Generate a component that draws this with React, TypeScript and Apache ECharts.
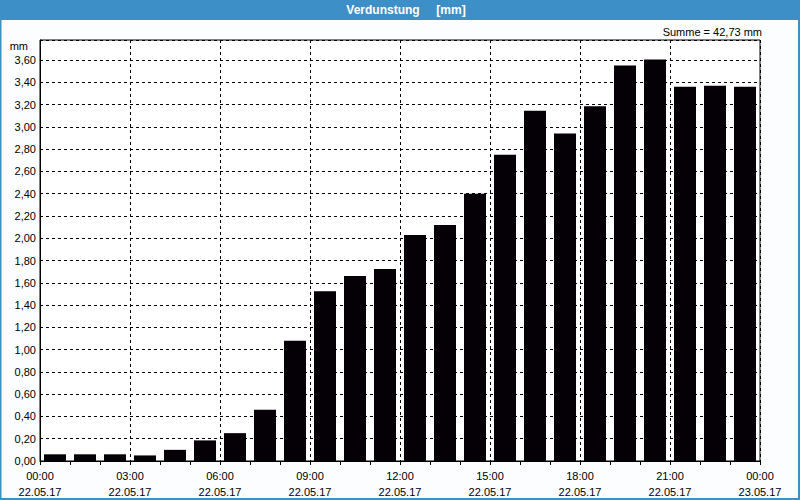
import React, { useEffect, useRef } from "react";
import * as echarts from "echarts";

const hours = Array.from({ length: 24 }, (_, i) => i);
const values = [
  0.06, 0.06, 0.06, 0.05, 0.10, 0.185, 0.25, 0.46,
  1.08, 1.525, 1.66, 1.725, 2.03, 2.12, 2.40, 2.75,
  3.145, 2.94, 3.185, 3.55, 3.605, 3.36, 3.37, 3.36,
];
const xTickLabels: Record<number, string> = {
  0: "00:00\n22.05.17",
  3: "03:00\n22.05.17",
  6: "06:00\n22.05.17",
  9: "09:00\n22.05.17",
  12: "12:00\n22.05.17",
  15: "15:00\n22.05.17",
  18: "18:00\n22.05.17",
  21: "21:00\n22.05.17",
  24: "00:00\n23.05.17",
};
const titleText = "Verdunstung     [mm]";
const sumText = "Summe = 42,73 mm";
const unitText = "mm";

export default function App() {
  const ref = useRef<HTMLDivElement>(null);
  useEffect(() => {
    document.body.style.margin = "0";
    const chart = echarts.init(ref.current!, null, { renderer: "svg" });
    const font = "'Liberation Sans', Arial, sans-serif";
    chart.setOption({
      animation: false,
      backgroundColor: "#fbfdff",
      textStyle: { fontFamily: font },
      grid: {
        left: 40,
        top: 40,
        width: 720,
        height: 421,
        show: true,
        borderColor: "#000",
        borderWidth: 1,
        backgroundColor: "#fff",
      },
      xAxis: {
        type: "value",
        min: 0,
        max: 24,
        interval: 3,
        axisLine: { show: true, lineStyle: { color: "#000", width: 1 } },
        axisTick: { show: true, length: 4, lineStyle: { color: "#000" } },
        minorTick: { show: true, splitNumber: 3, length: 4, lineStyle: { color: "#000" } },
        splitLine: { show: true, lineStyle: { color: "#000", type: [3, 3], width: 1 } },
        axisLabel: {
          color: "#000",
          fontSize: 11,
          fontFamily: font,
          lineHeight: 16,
          margin: 7,
          formatter: (v: number) => xTickLabels[Math.round(v)] ?? "",
        },
      },
      yAxis: {
        type: "value",
        min: 0,
        max: 3.78,
        interval: 0.2,
        axisLine: { show: true, lineStyle: { color: "#000", width: 1 } },
        axisTick: { show: false },
        splitLine: { show: true, lineStyle: { color: "#000", type: [3, 3], width: 1 } },
        axisLabel: {
          color: "#000",
          fontSize: 11,
          fontFamily: font,
          margin: 4,
          showMaxLabel: false,
          formatter: (v: number) => v.toFixed(2).replace(".", ","),
        },
      },
      series: [
        {
          type: "bar",
          barWidth: 22,
          itemStyle: { color: "#050005" },
          data: hours.map((h, i) => [h + 0.5, values[i]]),
        },
      ],
      graphic: [
        {
          type: "rect",
          shape: { x: 0, y: 0, width: 800, height: 20 },
          style: { fill: "#3d8fc7" },
          silent: true,
        },
        {
          type: "rect",
          shape: { x: 0.5, y: 0.5, width: 798.5, height: 498.5 },
          style: { fill: "none", stroke: "#3d8fc7", lineWidth: 2 },
          silent: true,
        },
        {
          type: "text",
          x: 406,
          y: 10,
          style: {
            text: titleText,
            fill: "#fff",
            font: `bold 12px ${font}`,
            textAlign: "center",
            textVerticalAlign: "middle",
          },
        },
        {
          type: "text",
          x: 762,
          y: 32,
          style: {
            text: sumText,
            fill: "#000",
            font: `11px ${font}`,
            textAlign: "right",
            textVerticalAlign: "middle",
          },
        },
        {
          type: "text",
          x: 28,
          y: 46,
          style: {
            text: unitText,
            fill: "#000",
            font: `11px ${font}`,
            textAlign: "right",
            textVerticalAlign: "middle",
          },
        },
      ],
    });
    return () => chart.dispose();
  }, []);
  return <div ref={ref} style={{ width: 800, height: 500 }} />;
}
